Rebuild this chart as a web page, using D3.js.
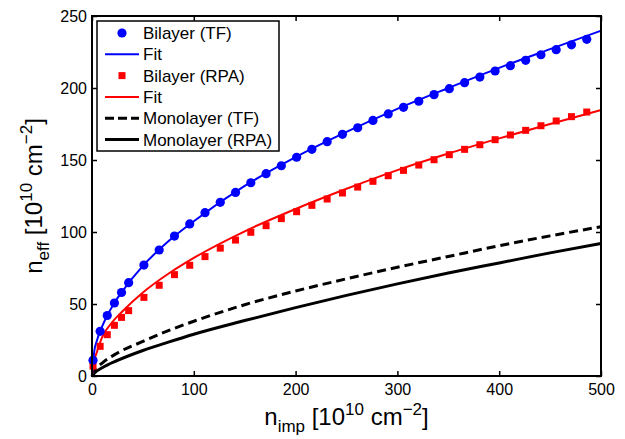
<!DOCTYPE html>
<html>
<head>
<meta charset="utf-8">
<script src="https://cdn.jsdelivr.net/npm/d3@7"></script>
<style>
  body { margin: 0; background: #fff; }
  svg { font-family: "Liberation Sans", Arial, sans-serif; }
</style>
</head>
<body>
<svg id="chart" width="625" height="439"></svg>
<script>
// data (units of 10^10 cm^-2)
var nImp = [1, 8, 15, 22, 29, 36, 51, 66, 81, 96, 111, 126, 141, 156, 171, 186, 201, 216,
            231, 246, 261, 276, 291, 306, 321, 336, 351, 366, 381, 396, 411, 426, 441, 456, 471, 486];
var bilayerTF = [11, 31, 42, 50.7, 58, 64.8, 77, 87.5, 97.2, 105.6, 113.4, 120.6, 127.5, 134.2, 140.5, 146,
                 151.9, 157.4, 162.7, 167.8, 172.4, 177.5, 182, 186.6, 190.8, 195.4, 199.5, 203.7,
                 207.6, 211.8, 215.5, 219.2, 223.1, 226.6, 230, 233.8];
var bilayerRPA = [6.9, 20.6, 28.7, 35.2, 40.7, 45.4, 54.6, 63, 70.4, 76.9, 82.9, 88.8, 94.4, 99.8, 104.4, 109.3,
                  114.1, 118.5, 122.9, 127.1, 131.2, 135.2, 139.1, 142.8, 146.5, 150.2, 153.7, 157.4,
                  160.6, 164.1, 167.4, 170.6, 173.8, 177.1, 180.1, 183.3];

var fitX   = [0, 2, 5, 10, 20, 30, 50, 75, 100, 150, 200, 250, 300, 350, 400, 450, 500];
var fitTF  = [0, 16, 25, 34.5, 48.5, 59, 76.5, 93.5, 107.5, 132, 152, 169.5, 185.5, 200, 214, 227, 239.8];
var fitRPA = [0, 10, 17, 27, 37.5, 45, 58, 71, 82, 100.5, 116, 130, 143, 154.5, 165, 175, 184.7];

var monoX   = [0, 2, 10, 25, 50, 75, 100, 150, 200, 250, 300, 350, 400, 450, 500];
var monoTF  = [0, 3.5, 9, 16, 24, 31.5, 38, 49.5, 59, 67.5, 75.5, 83, 90.5, 97.3, 103.7];
var monoRPA = [0, 1.8, 5.7, 10.8, 17.7, 23.5, 29, 38.5, 47.5, 56, 64, 71.5, 78.5, 85.5, 92];

var xTicks = [0, 100, 200, 300, 400, 500];
var yTicks = [0, 50, 100, 150, 200, 250];
var legendLabels = ["Bilayer (TF)", "Fit", "Bilayer (RPA)", "Fit", "Monolayer (TF)", "Monolayer (RPA)"];

var margin = {top: 16, right: 24, bottom: 63, left: 92},
    width = 625 - margin.left - margin.right,
    height = 439 - margin.top - margin.bottom;

var svg = d3.select("#chart").append("g")
  .attr("transform", "translate(" + margin.left + "," + margin.top + ")");

var x = d3.scaleLinear().domain([0, 500]).range([0, width]);
var y = d3.scaleLinear().domain([0, 250]).range([height, 0]);

function pts(xs, ys) { return xs.map(function(d, i) { return [d, ys[i]]; }); }

var line = d3.line()
  .x(function(d) { return x(d[0]); })
  .y(function(d) { return y(d[1]); })
  .curve(d3.curveMonotoneX);

// curves
svg.append("path").datum(pts(monoX, monoRPA))
  .attr("d", line).attr("fill", "none").attr("stroke", "#000").attr("stroke-width", 3);
svg.append("path").datum(pts(monoX, monoTF))
  .attr("d", line).attr("fill", "none").attr("stroke", "#000").attr("stroke-width", 3)
  .attr("stroke-dasharray", "9,5");
svg.append("path").datum(pts(fitX, fitRPA))
  .attr("d", line).attr("fill", "none").attr("stroke", "#ff0000").attr("stroke-width", 2);
svg.append("path").datum(pts(fitX, fitTF))
  .attr("d", line).attr("fill", "none").attr("stroke", "#0000ff").attr("stroke-width", 2);

// markers
svg.selectAll(".sq").data(pts(nImp, bilayerRPA))
  .enter().append("rect")
    .attr("class", "sq")
    .attr("x", function(d) { return x(d[0]) - 3.5; })
    .attr("y", function(d) { return y(d[1]) - 3.5; })
    .attr("width", 7).attr("height", 7)
    .style("fill", "#ff0000");
svg.selectAll(".dot").data(pts(nImp, bilayerTF))
  .enter().append("circle")
    .attr("class", "dot")
    .attr("cx", function(d) { return x(d[0]); })
    .attr("cy", function(d) { return y(d[1]); })
    .attr("r", 4.6)
    .style("fill", "#0000ff");

// axes, ticks pointing inwards on all four sides
svg.append("g").attr("class", "xAxis")
  .attr("transform", "translate(0," + height + ")")
  .call(d3.axisBottom(x).tickValues(xTicks).tickSizeInner(-5).tickSizeOuter(0).tickPadding(8));
svg.append("g").attr("class", "yAxis")
  .call(d3.axisLeft(y).tickValues(yTicks).tickSizeInner(-5).tickSizeOuter(0).tickPadding(5));
svg.append("g")
  .call(d3.axisTop(x).tickValues(xTicks).tickSizeInner(-5).tickSizeOuter(0).tickFormat(""));
svg.append("g")
  .attr("transform", "translate(" + width + ",0)")
  .call(d3.axisRight(y).tickValues(yTicks).tickSizeInner(-5).tickSizeOuter(0).tickFormat(""));

svg.selectAll(".domain").remove();
svg.selectAll(".tick line").attr("stroke", "#000").attr("stroke-width", 1.5);
svg.selectAll(".tick text").style("font-size", "16px").style("fill", "#000")
  .style("font-family", "'Liberation Sans', Arial, sans-serif");

svg.append("rect")
  .attr("width", width).attr("height", height)
  .attr("fill", "none").attr("stroke", "#000").attr("stroke-width", 2);

// axis labels
var xl = svg.append("text")
  .attr("x", width / 2).attr("y", height + 49)
  .style("text-anchor", "middle").style("font-size", "24px");
xl.append("tspan").text("n");
xl.append("tspan").attr("dy", 7).style("font-size", "17px").text("imp");
xl.append("tspan").attr("dy", -7).text(" [10");
xl.append("tspan").attr("dy", -10).style("font-size", "17px").text("10");
xl.append("tspan").attr("dy", 10).text(" cm");
xl.append("tspan").attr("dy", -10).style("font-size", "17px").text("\u22122");
xl.append("tspan").attr("dy", 10).text("]");

var yl = svg.append("text")
  .attr("transform", "translate(-50," + (height / 2) + ") rotate(-90)")
  .style("text-anchor", "middle").style("font-size", "24px");
yl.append("tspan").text("n");
yl.append("tspan").attr("dy", 7).style("font-size", "17px").text("eff");
yl.append("tspan").attr("dy", -7).text(" [10");
yl.append("tspan").attr("dy", -10).style("font-size", "17px").text("10");
yl.append("tspan").attr("dy", 10).text(" cm");
yl.append("tspan").attr("dy", -10).style("font-size", "17px").text("\u22122");
yl.append("tspan").attr("dy", 10).text("]");

// legend
var lg = svg.append("g").attr("transform", "translate(5,5)");
lg.append("rect")
  .attr("width", 182).attr("height", 130)
  .attr("fill", "#fff").attr("stroke", "#000").attr("stroke-width", 1.5);

var rows = lg.selectAll(".row").data(legendLabels)
  .enter().append("g")
    .attr("class", "row")
    .attr("transform", function(d, i) { return "translate(0," + (12 + i * 21.3) + ")"; });

rows.append("text")
  .attr("x", 46).attr("dy", "0.36em")
  .style("font-size", "17px")
  .text(function(d) { return d; });

rows.each(function(d, i) {
  var g = d3.select(this);
  if (i == 0) g.append("circle").attr("cx", 25).attr("r", 4.6).style("fill", "#0000ff");
  else if (i == 2) g.append("rect").attr("x", 21.5).attr("y", -3.5).attr("width", 7).attr("height", 7).style("fill", "#ff0000");
  else {
    var col = i == 1 ? "#0000ff" : (i == 3 ? "#ff0000" : "#000");
    g.append("line").attr("x1", 8).attr("x2", 42)
      .attr("stroke", col).attr("stroke-width", i > 3 ? 3 : 2)
      .attr("stroke-dasharray", i == 4 ? "9,4" : null);
  }
});
</script>
</body>
</html>
